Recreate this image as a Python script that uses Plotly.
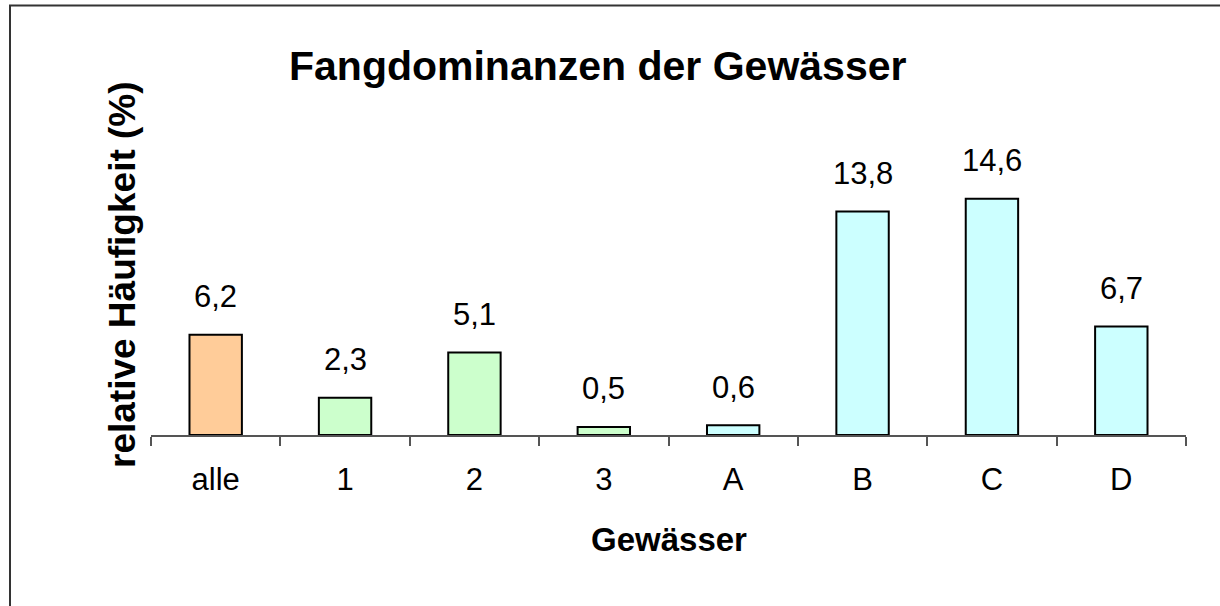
import plotly.graph_objects as go

categories = ["alle", "1", "2", "3", "A", "B", "C", "D"]
values = [6.2, 2.3, 5.1, 0.5, 0.6, 13.8, 14.6, 6.7]
colors = ["#FFCC99", "#CCFFCC", "#CCFFCC", "#CCFFCC", "#CCFFFF", "#CCFFFF", "#CCFFFF", "#CCFFFF"]
title_text = "Fangdominanzen der Gewässer"
x_title = "Gewässer"
y_title = "relative Häufigkeit (%)"

W, H = 1220, 606
L, R, T, B = 151, 34, 176, 171
pw = W - L - R
ph = H - T - B
FONT = "Liberation Sans, Arial"

def px_x(p):
    return (p - L) / pw

def px_y(p):
    return (H - B - p) / ph

fig = go.Figure(go.Bar(
    x=categories, y=values,
    marker=dict(color=colors, line=dict(color="black", width=2)),
    width=0.405,
))

for c, v in zip(categories, values):
    fig.add_annotation(x=c, y=v, text=f"{v:.1f}".replace(".", ","), showarrow=False,
                       yanchor="middle", yshift=38,
                       font=dict(family=FONT, size=31, color="black"))

fig.add_annotation(xref="paper", yref="paper", x=px_x(597), y=px_y(66), text=f"<b>{title_text}</b>",
                   showarrow=False, xanchor="center", yanchor="middle",
                   font=dict(family=FONT, size=41, color="black"))
fig.add_annotation(xref="paper", yref="paper", x=px_x(669), y=px_y(539), text=f"<b>{x_title}</b>",
                   showarrow=False, xanchor="center", yanchor="middle",
                   font=dict(family=FONT, size=33, color="black"))
fig.add_annotation(xref="paper", yref="paper", x=px_x(122), y=px_y(275), text=f"<b>{y_title}</b>",
                   showarrow=False, xanchor="center", yanchor="middle", textangle=-90,
                   font=dict(family=FONT, size=37, color="black"))

fig.add_shape(type="rect", xref="paper", yref="paper",
              x0=px_x(10), x1=px_x(1300), y0=px_y(700), y1=px_y(5.5),
              line=dict(color="#333333", width=2), fillcolor="rgba(0,0,0,0)", layer="below")

fig.update_layout(
    width=W, height=H,
    margin=dict(l=L, r=R, t=T, b=B, pad=0),
    paper_bgcolor="white", plot_bgcolor="white",
    showlegend=False,
    font=dict(family=FONT, color="black"),
    xaxis=dict(showline=True, linecolor="#555555", linewidth=1.5, ticks="outside", tickson="boundaries",
               ticklen=9, tickcolor="#555555", tickwidth=1.5, showgrid=False,
               tickfont=dict(size=31, color="black"), ticklabelstandoff=16),
    yaxis=dict(range=[0, 16], showline=False, showticklabels=False, showgrid=False, zeroline=False,
               ticks=""),
)

fig.write_html("out.html", config={"displayModeBar": False},
               post_script="document.body.style.margin='0';document.body.style.overflow='hidden';")
